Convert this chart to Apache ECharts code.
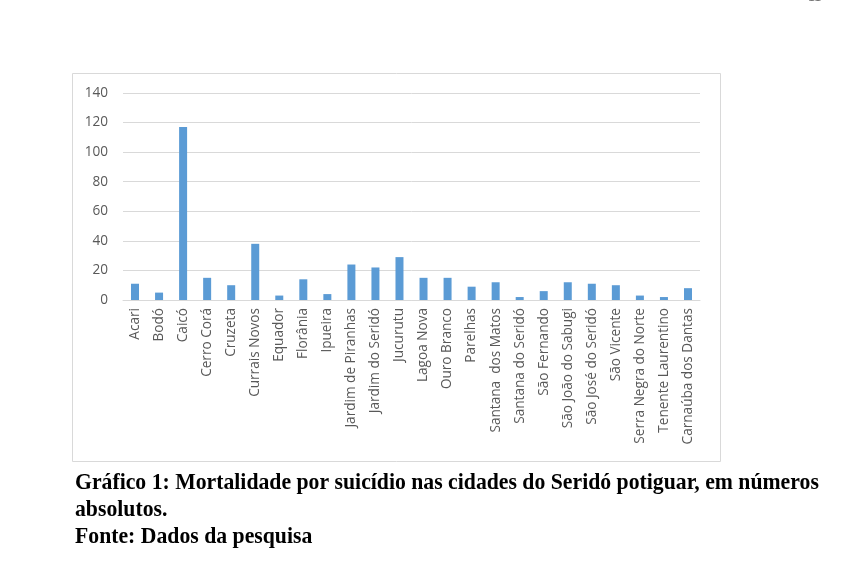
<!DOCTYPE html>
<html>
<head>
<meta charset="utf-8">
<script src="https://cdn.jsdelivr.net/npm/echarts@6/dist/echarts.min.js"></script>
<style>
html,body{margin:0;padding:0;background:#fff;}
#c{width:852px;height:564px;}
</style>
</head>
<body>
<div id="c"></div>
<script>
const categories = ["Acari","Bodó","Caicó","Cerro Corá","Cruzeta","Currais Novos","Equador","Florânia","Ipueira","Jardim de Piranhas","Jardim do Seridó","Jucurutu","Lagoa Nova","Ouro Branco","Parelhas","Santana  dos Matos","Santana do Seridó","São Fernando","São João do Sabugi","São José do Seridó","São Vicente","Serra Negra do Norte","Tenente Laurentino","Carnaúba dos Dantas"];
const values = [11,5,117,15,10,38,3,14,4,24,22,29,15,15,9,12,2,6,12,11,10,3,2,8];
const yTicks = {min:0, max:140, interval:20};
const captionLines = ["Gráfico 1: Mortalidade por suicídio nas cidades do Seridó potiguar, em números","absolutos.","Fonte: Dados da pesquisa"];

const chart = echarts.init(document.getElementById('c'), null, {renderer:'canvas'});
const capGraphics = captionLines.map((t,i)=>({
  type:'text', x:75, y:472 + i*27,
  scaleX:0.966,
  style:{text:t, font:'bold 22.5px "Liberation Serif", "Times New Roman", serif', fill:'#000'}
}));
chart.setOption({
  animation:false,
  backgroundColor:'#fff',
  grid:{left:123, right:152, top:93, bottom:264, containLabel:false},
  xAxis:{
    type:'category', data:categories,
    axisLine:{lineStyle:{color:'#d9d9d9'}},
    axisTick:{show:false},
    axisLabel:{rotate:90, interval:0, margin:8, color:'#595959', fontSize:13.6, fontFamily:'"Open Sans", sans-serif'}
  },
  yAxis:{
    type:'value', min:yTicks.min, max:yTicks.max, interval:yTicks.interval,
    axisLine:{show:false}, axisTick:{show:false},
    splitLine:{lineStyle:{color:'#d9d9d9'}},
    axisLabel:{margin:15, color:'#595959', fontSize:13.6, fontFamily:'"Open Sans", sans-serif'}
  },
  series:[{type:'bar', data:values, barWidth:8, itemStyle:{color:'#5b9bd5'}}],
  graphic:[
    {type:'rect', shape:{x:72.5, y:73.5, width:648, height:388}, style:{fill:null, stroke:'#d9d9d9', lineWidth:1}, z:-1},
    {type:'text', x:808, y:-10, style:{text:'11', font:'bold 14px "Liberation Serif", serif', fill:'#777'}}
  ].concat(capGraphics)
});
</script>
</body>
</html>
